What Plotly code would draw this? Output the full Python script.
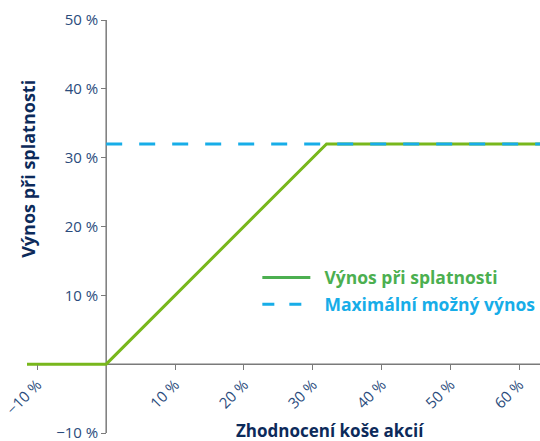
import plotly.graph_objects as go

# Data
payoff_x = [-11.5, 0, 32, 63]
payoff_y = [0, 0, 32, 32]
cap_x = [0, 63]
cap_y = [32, 32]
x_ticks = [-10, 10, 20, 30, 40, 50, 60]
y_ticks = [-10, 10, 20, 30, 40, 50]
series_names = ["Výnos při splatnosti", "Maximální možný výnos"]
x_title = "Zhodnocení koše akcií"
y_title = "Výnos při splatnosti"

GREEN_LINE = "#78b71c"
GREEN_LEG = "#4caf50"
BLUE = "#17ade8"
TICK = "#2a4b7c"
NAVY = "#0c2a5a"
AXIS = "#7a7a7a"
FONT = "Open Sans"

xr = [-11.5, 63]
yr = [-10, 50]

fig = go.Figure()
fig.add_trace(go.Scatter(x=payoff_x, y=payoff_y, mode="lines",
                         line=dict(color=GREEN_LINE, width=3), showlegend=False, hoverinfo="skip"))
fig.add_trace(go.Scatter(x=cap_x, y=cap_y, mode="lines",
                         line=dict(color=BLUE, width=3, dash="16px,17px"), showlegend=False, hoverinfo="skip"))
# legend entries
fig.add_trace(go.Scatter(x=[None], y=[None], mode="lines", line=dict(color=GREEN_LEG, width=3),
                         legendgroup="a",
                         name=f'<b><span style="color:{GREEN_LEG}">&nbsp;&nbsp;{series_names[0]}</span></b>'))
fig.add_trace(go.Scatter(x=[None], y=[None], mode="lines", line=dict(color=BLUE, width=3, dash="12px,15px"),
                         legendgroup="b",
                         name=f'<b><span style="color:{BLUE}">&nbsp;&nbsp;{series_names[1]}</span></b>'))

xpos = (0 - yr[0]) / (yr[1] - yr[0])
ypos = (0 - xr[0]) / (xr[1] - xr[0])

fig.update_layout(
    width=540, height=441,
    margin=dict(l=27, r=0, t=20, b=8, autoexpand=False),
    plot_bgcolor="white", paper_bgcolor="white",
    font=dict(family=FONT, color=TICK, size=14),
    xaxis=dict(range=xr, tickvals=x_ticks, ticktext=[f"{v} %".replace("-", "\u2212") for v in x_ticks],
               tickangle=-45, showgrid=False, zeroline=False, showline=False, automargin=False,
               anchor="free", position=xpos, ticks="outside", ticklen=5, tickcolor=AXIS,
               ticklabeloverflow="allow", tickfont=dict(size=15, color=TICK)),
    yaxis=dict(range=yr, tickvals=y_ticks, ticktext=[f"{v} %".replace("-", "\u2212") for v in y_ticks],
               showgrid=False, zeroline=False, showline=False, automargin=False,
               anchor="free", position=ypos, ticks="outside", ticklen=5, tickcolor=AXIS,
               ticklabeloverflow="allow", tickfont=dict(size=15, color=TICK)),
    legend=dict(x=0.449, y=0.42, xanchor="left", yanchor="top", bgcolor="rgba(0,0,0,0)",
                font=dict(size=17.5, family=FONT), tracegroupgap=1, itemwidth=48),
)

# axis lines at zero
fig.add_shape(type="line", xref="x", yref="paper", x0=0, x1=0, y0=0, y1=1,
              line=dict(color=AXIS, width=1.5), layer="below")
fig.add_shape(type="line", xref="paper", yref="y", x0=0, x1=1, y0=0, y1=0,
              line=dict(color=AXIS, width=1.5), layer="below")

fig.add_annotation(text=f"<b>{y_title}</b>", xref="paper", yref="paper", x=-0.025, y=0.64,
                   textangle=-90, showarrow=False, font=dict(size=18, color=NAVY, family=FONT))
fig.add_annotation(text=f"<b>{x_title}</b>", xref="paper", yref="paper", x=0.59, y=0.005,
                   yanchor="middle", showarrow=False, font=dict(size=17, color=NAVY, family=FONT))

fig.write_html("out.html", config={"displayModeBar": False},
               post_script="document.body.style.margin='0';")
